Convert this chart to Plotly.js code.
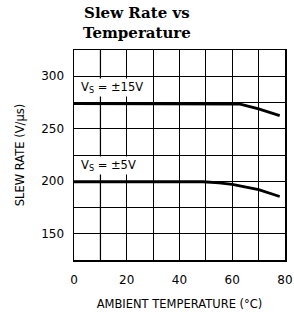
<!DOCTYPE html>
<html><head><meta charset="utf-8">
<script src="https://cdn.plot.ly/plotly-3.0.1.min.js"></script>
<style>html,body{margin:0;padding:0;background:#fff}</style>
</head><body><div id="c" style="width:294px;height:312px"></div>
<script>
var temp15 = [0, 20, 40, 55, 63, 70, 78];
var rate15 = [274, 274, 274, 274, 273.5, 269, 262.5];
var temp5 = [0, 20, 40, 49, 55, 60, 70, 78];
var rate5 = [199.5, 199.5, 199.5, 199.5, 198.5, 197, 192, 185.5];
var xTicks = [0, 20, 40, 60, 80];
var yTicks = [150, 200, 250, 300];
var labels = ["V<sub>S</sub> = ±15V", "V<sub>S</sub> = ±5V"];
var titleText = "<b>Slew Rate vs<br>Temperature</b>";

var fam = "DejaVu Sans, Liberation Sans, sans-serif";
var data = [
  {x: temp15, y: rate15, mode: "lines", line: {color: "#000", width: 2.8}, hoverinfo: "skip"},
  {x: temp5, y: rate5, mode: "lines", line: {color: "#000", width: 2.8}, hoverinfo: "skip"}
];
var layout = {
  width: 294, height: 312,
  margin: {l: 74, r: 9, t: 50, b: 52},
  paper_bgcolor: "#fff", plot_bgcolor: "#fff",
  showlegend: false,
  xaxis: {range: [0, 80], tickvals: xTicks, ticktext: xTicks.map(String),
          showgrid: true, gridcolor: "#000", gridwidth: 1, zeroline: false,
          minor: {tick0: 0, dtick: 10, showgrid: true, gridcolor: "#000", gridwidth: 1, ticks: ""},
          showline: true, linecolor: "#000", linewidth: 1.5, mirror: true, ticks: "",
          ticklabelstandoff: 8,
          tickfont: {family: fam, size: 12, color: "#000"},
          title: {text: "AMBIENT TEMPERATURE (°C)", font: {family: fam, size: 11.5, color: "#000"}, standoff: 14}},
  yaxis: {range: [125, 325], tickvals: yTicks, ticktext: yTicks.map(String),
          showgrid: true, gridcolor: "#000", gridwidth: 1, zeroline: false,
          minor: {tick0: 125, dtick: 25, showgrid: true, gridcolor: "#000", gridwidth: 1, ticks: ""},
          showline: true, linecolor: "#000", linewidth: 1.5, mirror: true, ticks: "",
          ticklabelstandoff: 6,
          tickfont: {family: fam, size: 12, color: "#000"},
          title: {text: "SLEW RATE (V/μs)", font: {family: fam, size: 11.5, color: "#000"}, standoff: 14}},
  shapes: [{type: "line", xref: "x", yref: "paper", x0: 10, x1: 10, y0: 0, y1: 1, line: {color: "#888", width: 1.5}, layer: "below"}],
  annotations: [
    {text: titleText, xref: "paper", yref: "paper", x: 0.3, y: 1.0, yshift: 48, xanchor: "center", yanchor: "top",
     showarrow: false, font: {family: "DejaVu Serif, serif", size: 15, color: "#000"}},
    {text: labels[0], x: 2, y: 289, xref: "x", yref: "y", xanchor: "left", yanchor: "middle", showarrow: false,
     font: {family: fam, size: 11.5, color: "#000"}, bgcolor: "#fff"},
    {text: labels[1], x: 2, y: 215, xref: "x", yref: "y", xanchor: "left", yanchor: "middle", showarrow: false,
     font: {family: fam, size: 11.5, color: "#000"}, bgcolor: "#fff"}
  ]
};
Plotly.newPlot("c", data, layout, {displayModeBar: false, staticPlot: true});
</script></body></html>
